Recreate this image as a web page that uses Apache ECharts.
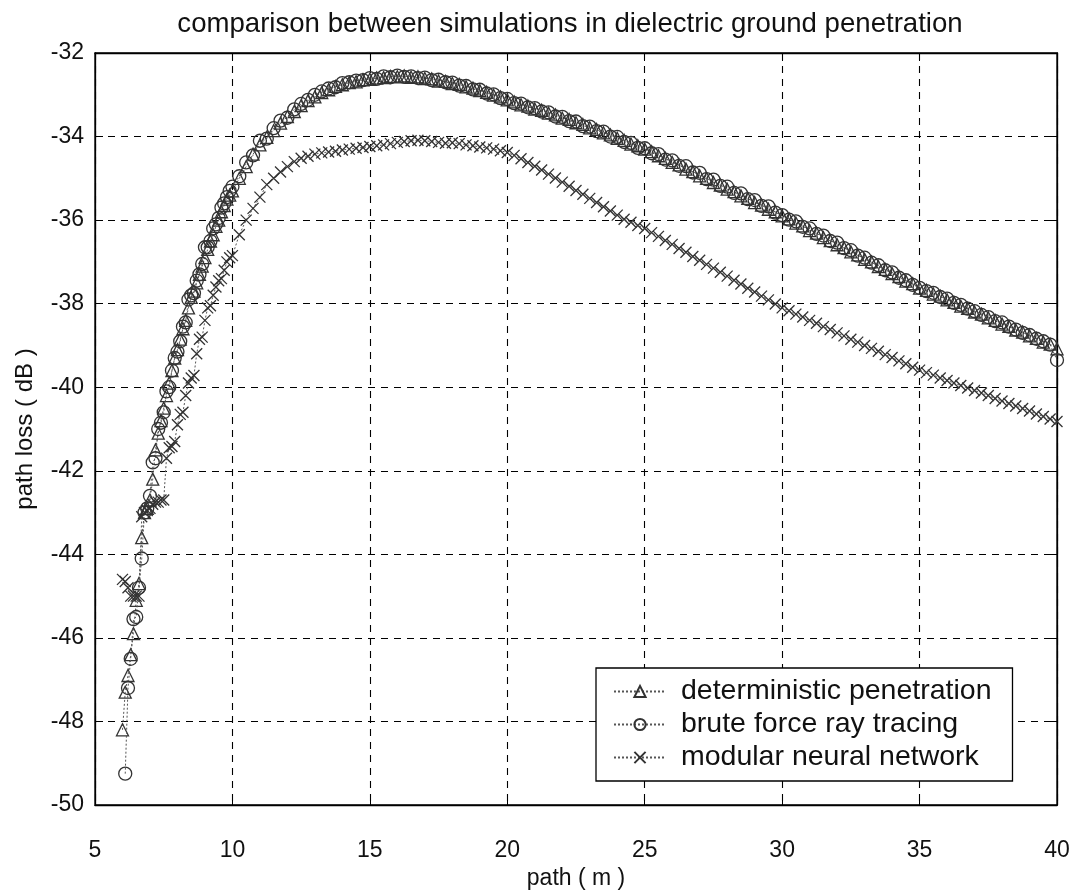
<!DOCTYPE html>
<html>
<head>
<meta charset="utf-8">
<title>comparison between simulations in dielectric ground penetration</title>
<script src="https://cdn.jsdelivr.net/npm/echarts@6/dist/echarts.min.js"></script>
<style>
  html, body { margin: 0; padding: 0; background: #fff; }
  #chart { width: 1074px; height: 890px; }
</style>
</head>
<body>
<div id="chart"></div>
<script>
// path positions (m): 0.1 m steps up to 10 m, 0.25 m steps after
const pathM = [
  6.0, 6.1, 6.2, 6.3, 6.4, 6.5, 6.6, 6.7, 6.8, 6.9,
  7.0, 7.1, 7.2, 7.3, 7.4, 7.5, 7.6, 7.7, 7.8, 7.9,
  8.0, 8.1, 8.2, 8.3, 8.4, 8.5, 8.6, 8.7, 8.8, 8.9,
  9.0, 9.1, 9.2, 9.3, 9.4, 9.5, 9.6, 9.7, 9.8, 9.9,
  10.0,
  10.25, 10.5, 10.75, 11.0, 11.25, 11.5, 11.75, 12.0, 12.25, 12.5,
  12.75, 13.0, 13.25, 13.5, 13.75, 14.0, 14.25, 14.5, 14.75, 15.0,
  15.25, 15.5, 15.75, 16.0, 16.25, 16.5, 16.75, 17.0, 17.25, 17.5,
  17.75, 18.0, 18.25, 18.5, 18.75, 19.0, 19.25, 19.5, 19.75, 20.0,
  20.25, 20.5, 20.75, 21.0, 21.25, 21.5, 21.75, 22.0, 22.25, 22.5,
  22.75, 23.0, 23.25, 23.5, 23.75, 24.0, 24.25, 24.5, 24.75, 25.0,
  25.25, 25.5, 25.75, 26.0, 26.25, 26.5, 26.75, 27.0, 27.25, 27.5,
  27.75, 28.0, 28.25, 28.5, 28.75, 29.0, 29.25, 29.5, 29.75, 30.0,
  30.25, 30.5, 30.75, 31.0, 31.25, 31.5, 31.75, 32.0, 32.25, 32.5,
  32.75, 33.0, 33.25, 33.5, 33.75, 34.0, 34.25, 34.5, 34.75, 35.0,
  35.25, 35.5, 35.75, 36.0, 36.25, 36.5, 36.75, 37.0, 37.25, 37.5,
  37.75, 38.0, 38.25, 38.5, 38.75, 39.0, 39.25, 39.5, 39.75, 40.0
];

// path loss (dB), deterministic penetration model
const deterministicDb = [
  -48.2, -47.3, -46.9, -46.4, -45.9, -45.1, -44.7, -43.6, -43.0, -42.9,
  -42.7, -42.2, -41.5, -41.1, -40.8, -40.5, -40.2, -39.9, -39.6, -39.3,
  -39.1, -38.85, -38.6, -38.4, -38.1, -37.85, -37.7, -37.5, -37.3, -37.1,
  -36.9, -36.7, -36.5, -36.35, -36.15, -36.0, -35.8, -35.65, -35.5, -35.4,
  -35.3,
  -35.0, -34.72, -34.42, -34.2, -34.02, -33.86, -33.68, -33.52, -33.4, -33.26,
  -33.14, -33.05, -32.95, -32.88, -32.8, -32.76, -32.71, -32.69, -32.64, -32.63,
  -32.6, -32.59, -32.56, -32.57, -32.55, -32.58, -32.57, -32.61, -32.62, -32.67,
  -32.68, -32.73, -32.75, -32.81, -32.84, -32.9, -32.94, -33.01, -33.05, -33.12,
  -33.17, -33.24, -33.27, -33.34, -33.37, -33.44, -33.48, -33.56, -33.59, -33.67,
  -33.71, -33.79, -33.83, -33.91, -33.96, -34.04, -34.09, -34.18, -34.22, -34.3,
  -34.36, -34.46, -34.52, -34.62, -34.68, -34.78, -34.84, -34.94, -35.0, -35.1,
  -35.16, -35.26, -35.32, -35.42, -35.48, -35.58, -35.64, -35.74, -35.8, -35.9,
  -35.97, -36.07, -36.14, -36.25, -36.31, -36.42, -36.49, -36.59, -36.66, -36.76,
  -36.83, -36.94, -37.0, -37.11, -37.18, -37.28, -37.35, -37.46, -37.52, -37.63,
  -37.68, -37.77, -37.82, -37.91, -37.97, -38.06, -38.11, -38.2, -38.25, -38.34,
  -38.4, -38.49, -38.54, -38.63, -38.68, -38.77, -38.83, -38.92, -38.97, -39.08
];

// path loss (dB), brute force ray tracing (no sample at 6.0 m)
const bruteForceDb = [
  null, -49.25, -47.2, -46.5, -45.55, -45.5, -44.8, -44.1, -43.0, -42.9,
  -42.6, -41.8, -41.7, -41.0, -40.85, -40.6, -40.1, -40.0, -39.6, -39.3,
  -39.15, -38.9, -38.55, -38.45, -37.9, -37.8, -37.75, -37.45, -37.3, -37.05,
  -36.65, -36.65, -36.5, -36.2, -36.1, -35.95, -35.7, -35.6, -35.45, -35.3,
  -35.2,
  -34.95, -34.62, -34.45, -34.1, -34.05, -33.8, -33.62, -33.55, -33.35, -33.22,
  -33.12, -33.0, -32.92, -32.85, -32.82, -32.72, -32.7, -32.66, -32.65, -32.6,
  -32.62, -32.56, -32.58, -32.54, -32.57, -32.56, -32.6, -32.59, -32.65, -32.64,
  -32.7, -32.71, -32.78, -32.79, -32.87, -32.88, -32.97, -32.99, -33.08, -33.1,
  -33.2, -33.21, -33.3, -33.32, -33.4, -33.42, -33.52, -33.53, -33.63, -33.64,
  -33.75, -33.76, -33.87, -33.88, -34.0, -34.01, -34.13, -34.15, -34.27, -34.28,
  -34.4, -34.42, -34.55, -34.57, -34.7, -34.71, -34.86, -34.87, -35.02, -35.03,
  -35.18, -35.2, -35.35, -35.36, -35.5, -35.52, -35.66, -35.67, -35.82, -35.88,
  -35.99, -36.03, -36.16, -36.2, -36.33, -36.37, -36.5, -36.54, -36.67, -36.72,
  -36.85, -36.9, -37.02, -37.08, -37.2, -37.25, -37.38, -37.44, -37.55, -37.62,
  -37.7, -37.74, -37.84, -37.88, -37.98, -38.03, -38.12, -38.18, -38.27, -38.32,
  -38.42, -38.45, -38.55, -38.62, -38.7, -38.75, -38.84, -38.9, -38.98, -39.35
];

// path loss (dB), modular neural network
const neuralNetDb = [
  -44.6, -44.65, -44.8, -45.0, -45.0, -45.0, -45.0, -43.1, -43.0, -42.95,
  -42.9, -42.8, -42.75, -42.75, -42.7, -42.7, -41.7, -41.45, -41.42, -41.3,
  -40.9, -40.65, -40.6, -40.2, -39.9, -39.78, -39.72, -39.2, -38.85, -38.8,
  -38.4, -38.1, -38.05, -37.8, -37.6, -37.45, -37.4, -37.2, -37.0, -36.9,
  -36.85,
  -36.35, -36.0, -35.72, -35.45, -35.15, -35.0, -34.85, -34.72, -34.6, -34.52,
  -34.47, -34.42, -34.39, -34.37, -34.35, -34.32, -34.3, -34.28, -34.26, -34.24,
  -34.22, -34.2, -34.17, -34.14, -34.12, -34.1, -34.09, -34.1, -34.12, -34.14,
  -34.16, -34.15, -34.17, -34.2, -34.22, -34.25, -34.27, -34.3, -34.34, -34.38,
  -34.45, -34.53, -34.62, -34.71, -34.8, -34.9, -34.99, -35.09, -35.19, -35.29,
  -35.38, -35.48, -35.58, -35.68, -35.78, -35.88, -35.98, -36.05, -36.13, -36.2,
  -36.3, -36.39, -36.49, -36.58, -36.68, -36.77, -36.87, -36.96, -37.06, -37.15,
  -37.25, -37.34, -37.44, -37.53, -37.63, -37.72, -37.82, -37.91, -38.01, -38.1,
  -38.17, -38.25, -38.32, -38.4, -38.47, -38.55, -38.62, -38.7, -38.77, -38.85,
  -38.92, -39.0, -39.07, -39.14, -39.22, -39.29, -39.37, -39.44, -39.52, -39.59,
  -39.65, -39.71, -39.78, -39.84, -39.9, -39.96, -40.02, -40.08, -40.14, -40.2,
  -40.27, -40.33, -40.39, -40.45, -40.51, -40.57, -40.64, -40.7, -40.76, -40.82
];

const seriesNames = ['deterministic penetration', 'brute force ray tracing', 'modular neural network'];
const xTicks = { min: 5, max: 40, step: 5 };
const yTicks = { min: -50, max: -32, step: 2 };

const FONT = '"Liberation Sans", Arial, Helvetica, sans-serif';
const INK = '#333';

function pairs(values) {
  return pathM.map((x, i) => [x, values[i]]);
}

function markerSeries(name, values, symbol, size, z) {
  return {
    name: name,
    type: 'line',
    data: pairs(values),
    symbol: symbol,
    symbolSize: size,
    showSymbol: true,
    connectNulls: false,
    z: z,
    itemStyle: { color: 'rgba(0,0,0,0)', borderColor: INK, borderWidth: 1.3 },
    lineStyle: { color: '#555', width: 1, type: [2, 2] },
    emphasis: { disabled: true }
  };
}

const gridDash = { color: '#000', width: 1.1, type: [7, 6] };

const chart = echarts.init(document.getElementById('chart'), null, { renderer: 'canvas' });
chart.setOption({
  animation: false,
  backgroundColor: '#fff',
  textStyle: { fontFamily: FONT, color: '#000' },
  title: {
    text: 'comparison between simulations in dielectric ground penetration',
    left: 565,
    textAlign: 'center',
    top: 5,
    textStyle: { fontFamily: FONT, fontSize: 27.6, fontWeight: 'normal', color: '#111' }
  },
  grid: {
    left: 95, right: 17, top: 53, bottom: 85,
    containLabel: false,
    outerBoundsMode: 'none',
    show: true, borderColor: '#000', borderWidth: 1.3, backgroundColor: '#fff'
  },
  legend: {
    data: seriesNames,
    orient: 'vertical',
    left: 596,
    top: 668,
    itemWidth: 52,
    itemHeight: 14,
    itemGap: 4,
    padding: [9, 21, 9, 17],
    backgroundColor: '#fff',
    borderColor: '#000',
    borderWidth: 1.3,
    textStyle: { fontFamily: FONT, fontSize: 28.5, color: '#111', padding: [0, 0, 0, 10] }
  },
  xAxis: [{
    type: 'value',
    min: xTicks.min, max: xTicks.max, interval: xTicks.step,
    position: 'bottom',
    name: 'path ( m )',
    nameLocation: 'middle',
    nameGap: 62,
    nameTextStyle: { fontFamily: FONT, fontSize: 23, color: '#111' },
    axisLine: { lineStyle: { color: '#000', width: 1.3 } },
    axisTick: { inside: true, length: 8, lineStyle: { color: '#000' } },
    axisLabel: { fontFamily: FONT, fontSize: 23, color: '#111', margin: 34 },
    splitLine: { show: true, lineStyle: gridDash }
  }, {
    type: 'value',
    min: xTicks.min, max: xTicks.max, interval: xTicks.step,
    position: 'top',
    axisLine: { lineStyle: { color: '#000', width: 1.3 } },
    axisTick: { inside: true, length: 8, lineStyle: { color: '#000' } },
    axisLabel: { show: false },
    splitLine: { show: false }
  }],
  yAxis: [{
    type: 'value',
    min: yTicks.min, max: yTicks.max, interval: yTicks.step,
    position: 'left',
    name: 'path loss ( dB )',
    nameLocation: 'middle',
    nameGap: 58,
    nameTextStyle: { fontFamily: FONT, fontSize: 24, color: '#111' },
    axisLine: { show: true, lineStyle: { color: '#000', width: 1.3 } },
    axisTick: { show: true, inside: true, length: 8, lineStyle: { color: '#000' } },
    axisLabel: { fontFamily: FONT, fontSize: 23, color: '#111', margin: 11 },
    splitLine: { show: true, lineStyle: gridDash }
  }, {
    type: 'value',
    min: yTicks.min, max: yTicks.max, interval: yTicks.step,
    position: 'right',
    axisLine: { show: true, lineStyle: { color: '#000', width: 1.3 } },
    axisTick: { show: true, inside: true, length: 8, lineStyle: { color: '#000' } },
    axisLabel: { show: false },
    splitLine: { show: false }
  }],
  series: [
    markerSeries(seriesNames[0], deterministicDb, 'triangle', 12, 3),
    markerSeries(seriesNames[1], bruteForceDb, 'circle', 13, 4),
    markerSeries(seriesNames[2], neuralNetDb, 'path://M0,0L10,10M10,0L0,10', 11, 5)
  ]
});
</script>
</body>
</html>
